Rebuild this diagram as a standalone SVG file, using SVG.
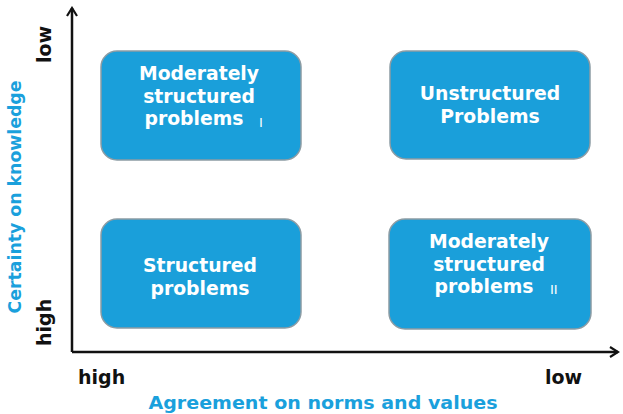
<svg xmlns="http://www.w3.org/2000/svg" width="623" height="414" viewBox="0 0 623 414">
  <style>
    .box { fill: #1a9fda; stroke: #8c9ca4; stroke-width: 1.5; }
    .bt { font-family: "DejaVu Sans", Verdana, sans-serif; font-weight: bold; font-size: 18.8px; fill: #ffffff; text-anchor: middle; }
    .mark { font-family: "DejaVu Sans", sans-serif; font-size: 13px; fill: #ffffff; }
    .axis { fill: none; stroke: #111111; stroke-width: 2.5; }
    .tick { font-family: "DejaVu Sans", Verdana, sans-serif; font-weight: bold; font-size: 19px; fill: #111111; }
    .title { font-family: "DejaVu Sans", Verdana, sans-serif; font-weight: bold; font-size: 18px; fill: #1aa0dc; text-anchor: middle; }
  </style>
  <defs>
    <marker id="arrow" viewBox="0 0 12 12" refX="10" refY="6" markerWidth="12" markerHeight="12" markerUnits="userSpaceOnUse" orient="auto">
      <path d="M2,1 L10,6 L2,11" fill="none" stroke="#111111" stroke-width="2.2"/>
    </marker>
  </defs>
  <rect width="623" height="414" fill="#ffffff"/>

  <!-- axes -->
  <g id="connectors">
    <path class="axis" d="M72,352 L72,8" marker-end="url(#arrow)"/>
    <path class="axis" d="M72,352 L618,352" marker-end="url(#arrow)"/>
  </g>

  <!-- quadrants -->
  <g id="moderately-structured-1">
    <rect class="box" x="101" y="51" width="200" height="109" rx="16"/>
    <text class="bt" x="199" y="80">Moderately</text>
    <text class="bt" x="199" y="103">structured</text>
    <text class="bt" x="194" y="125">problems</text>
    <text class="mark" x="259" y="127">I</text>
  </g>
  <g id="unstructured">
    <rect class="box" x="390" y="51" width="200" height="108" rx="16"/>
    <text class="bt" x="490" y="100">Unstructured</text>
    <text class="bt" x="490" y="123">Problems</text>
  </g>
  <g id="structured">
    <rect class="box" x="101" y="219" width="200" height="109" rx="16"/>
    <text class="bt" x="200" y="272">Structured</text>
    <text class="bt" x="200" y="295">problems</text>
  </g>
  <g id="moderately-structured-2">
    <rect class="box" x="389" y="219" width="202" height="110" rx="16"/>
    <text class="bt" x="489" y="248">Moderately</text>
    <text class="bt" x="489" y="271">structured</text>
    <text class="bt" x="484" y="293">problems</text>
    <text class="mark" x="550" y="294">II</text>
  </g>

  <!-- axis labels -->
  <g id="labels">
    <text class="tick" transform="translate(51,63) rotate(-90)">low</text>
    <text class="tick" transform="translate(51,346) rotate(-90)">high</text>
    <text class="title" transform="translate(21,197) rotate(-90)" textLength="233" lengthAdjust="spacingAndGlyphs">Certainty on knowledge</text>
    <text class="tick" x="78" y="384">high</text>
    <text class="tick" x="545" y="384">low</text>
    <text class="title" x="323" y="409" textLength="349" lengthAdjust="spacingAndGlyphs">Agreement on norms and values</text>
  </g>
</svg>
